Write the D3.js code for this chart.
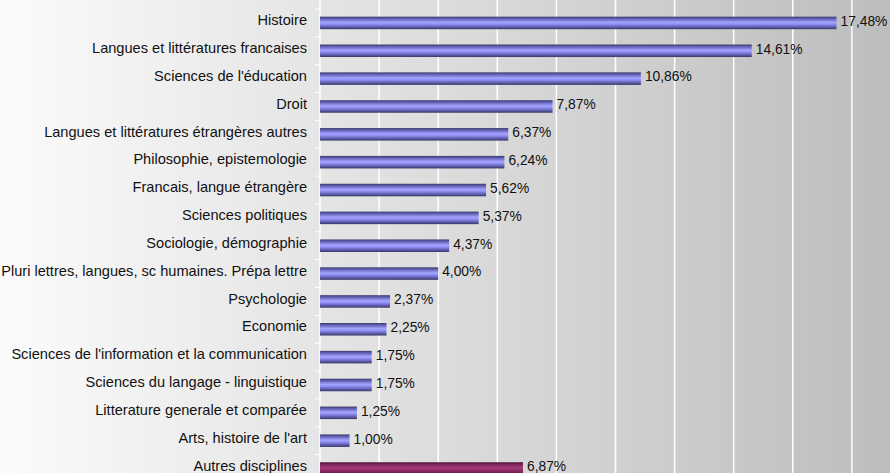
<!DOCTYPE html>
<html><head><meta charset="utf-8">
<script src="https://cdn.jsdelivr.net/npm/d3@7"></script>
<style>body{margin:0;}svg{display:block;}</style>
</head><body>
<script>
const categories = ["Histoire","Langues et littératures francaises","Sciences de l'éducation","Droit","Langues et littératures étrangères autres","Philosophie, epistemologie","Francais, langue étrangère","Sciences politiques","Sociologie, démographie","Pluri lettres, langues, sc humaines. Prépa lettre","Psychologie","Economie","Sciences de l'information et la communication","Sciences du langage - linguistique","Litterature generale et comparée","Arts, histoire de l'art","Autres disciplines"];
const values = [17.48,14.61,10.86,7.87,6.37,6.24,5.62,5.37,4.37,4.00,2.37,2.25,1.75,1.75,1.25,1.00,6.87];
const valueLabels = ["17,48%","14,61%","10,86%","7,87%","6,37%","6,24%","5,62%","5,37%","4,37%","4,00%","2,37%","2,25%","1,75%","1,75%","1,25%","1,00%","6,87%"];
const gridTicks = [0,2,4,6,8,10,12,14,16,18,20];

const W=890,H=473;
const svg=d3.select("body").append("svg").attr("width",W).attr("height",H);
const defs=svg.append("defs");
const bg=defs.append("linearGradient").attr("id","bg").attr("x1","0").attr("x2","1").attr("y1","0").attr("y2","0");
bg.append("stop").attr("offset","0").attr("stop-color","#fbfbfb");
bg.append("stop").attr("offset","1").attr("stop-color","#bdbdbd");
const gb=defs.append("linearGradient").attr("id","gb").attr("x1","0").attr("x2","0").attr("y1","0").attr("y2","1");
[[0,"#3c3c66"],[0.15,"#5c5cb0"],[0.45,"#a4a4ff"],[0.6,"#9090f4"],[0.85,"#5858a6"],[1,"#383860"]].forEach(s=>gb.append("stop").attr("offset",s[0]).attr("stop-color",s[1]));
const gm=defs.append("linearGradient").attr("id","gm").attr("x1","0").attr("x2","0").attr("y1","0").attr("y2","1");
[[0,"#4a1030"],[0.15,"#7a2358"],[0.45,"#a23d78"],[0.6,"#962f6c"],[0.85,"#741f52"],[1,"#4a1030"]].forEach(s=>gm.append("stop").attr("offset",s[0]).attr("stop-color",s[1]));

svg.append("rect").attr("width",W).attr("height",H).attr("fill","url(#bg)");

const x=d3.scaleLinear().domain([0,20]).range([320,911]);
const y=d3.scaleBand().domain(categories).range([9,9+17*27.85]).paddingInner(0.55).paddingOuter(0.275);
const font="Liberation Sans, Arial, sans-serif";

// gridlines
svg.append("g").selectAll("line").data(gridTicks.slice(1)).join("line")
  .attr("x1",d=>x(d)).attr("x2",d=>x(d)).attr("y1",0).attr("y2",H)
  .attr("stroke","#ffffff").attr("stroke-width",1.5);

// axis
const ax=svg.append("g").attr("transform","translate(320,-2.5)").call(d3.axisLeft(y).tickSize(0).tickPadding(13));
ax.select(".domain").remove();
ax.selectAll("text").attr("font-family",font).attr("font-size","14.6px").attr("fill","#111");
svg.append("line").attr("x1",320).attr("x2",320).attr("y1",0).attr("y2",H).attr("stroke","#ffffff").attr("stroke-width",1.5);
// tick marks between categories
svg.append("g").selectAll("line").data(d3.range(18)).join("line")
  .attr("x1",315).attr("x2",320).attr("y1",i=>9+i*27.85).attr("y2",i=>9+i*27.85).attr("stroke","#ffffff");

const data=categories.map((c,i)=>({c,v:values[i],l:valueLabels[i],i}));
svg.append("g").selectAll("rect").data(data).join("rect")
  .attr("x",x(0)).attr("y",d=>y(d.c)).attr("width",d=>x(d.v)-x(0)).attr("height",y.bandwidth())
  .attr("fill",d=>d.i===16?"url(#gm)":"url(#gb)");
svg.append("g").selectAll("text").data(data).join("text")
  .attr("x",d=>x(d.v)+4).attr("y",d=>y(d.c)+y.bandwidth()/2-2).attr("dy","0.35em")
  .attr("font-family",font).attr("font-size","13.8px").attr("fill","#111")
  .text(d=>d.l);
</script>
</body></html>
